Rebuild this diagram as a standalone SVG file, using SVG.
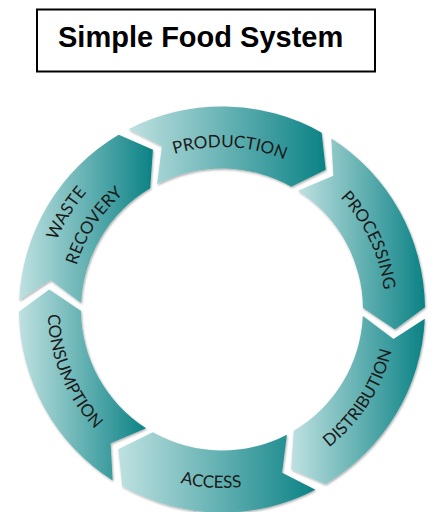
<svg xmlns="http://www.w3.org/2000/svg" xmlns:xlink="http://www.w3.org/1999/xlink" width="435" height="512" viewBox="0 0 435 512">
<defs>
<linearGradient id="teal" x1="0" y1="0" x2="1" y2="0">
<stop offset="0" stop-color="#bfe1e1"/>
<stop offset="1" stop-color="#0b8285"/>
</linearGradient>
<filter id="sh" x="-10%" y="-10%" width="120%" height="120%">
<feDropShadow dx="0.8" dy="1.2" stdDeviation="0.8" flood-color="#000" flood-opacity="0.35"/>
</filter>
<path id="tp-prod" d="M72.20,246.53 A162.5,162.5 0 0,1 377.23,261.45"/>
<path id="tp-proc" d="M207.23,147.17 A163,163 0 0,1 337.66,424.35"/>
<path id="tp-waste" d="M81.52,420.43 A179,179 0 0,1 258.30,134.22"/>
<path id="tp-recov" d="M100.29,400.55 A152,152 0 0,1 256.71,161.52"/>
<path id="tp-dist" d="M183.04,479.60 A174.5,174.5 0 0,0 361.18,204.24"/>
<path id="tp-acc" d="M50.76,359.90 A178.5,178.5 0 0,0 385.57,380.96"/>
<path id="tp-cons" d="M104.25,180.99 A174.3,174.3 0 0,0 229.60,483.63"/>
</defs>
<style>
.seg{fill:url(#teal);filter:url(#sh)}
.lbl{font-family:Lato,"Open Sans",sans-serif;font-size:17px;fill:#1a1a1a;text-anchor:middle}
.title{font-family:"Liberation Sans",Arial,sans-serif;font-weight:bold;font-size:29px;fill:#000}
</style>
<rect width="435" height="512" fill="#fff"/>
<g id="title">
<rect x="37" y="9.5" width="338" height="62" fill="#fff" stroke="#000" stroke-width="2"/>
<text class="title" x="58" y="47">Simple Food System</text>
</g>
<g id="connectors"></g>
<g id="production">
<path class="seg" d="M128.58,129.27 A203,203 0 0,1 321.65,132.64 L325.74,169.81 L291.22,186.66 A141,141 0 0,0 157.11,184.32 L161.92,146.20 Z"/>
<text class="lbl"><textPath xlink:href="#tp-prod" href="#tp-prod" startOffset="50%">PRODUCTION</textPath></text>
</g>
<g id="processing">
<path class="seg" d="M331.37,138.48 A203,203 0 0,1 424.99,307.37 L394.85,329.50 L362.99,308.02 A141,141 0 0,0 297.97,190.71 L333.38,175.82 Z"/>
<text class="lbl"><textPath xlink:href="#tp-proc" href="#tp-proc" startOffset="50%">PROCESSING</textPath></text>
</g>
<g id="distribution">
<path class="seg" d="M424.79,318.71 A203,203 0 0,1 325.34,484.23 L291.10,469.19 L293.77,430.86 A141,141 0 0,0 362.85,315.90 L393.46,339.12 Z"/>
<text class="lbl"><textPath xlink:href="#tp-dist" href="#tp-dist" startOffset="50%">DISTRIBUTION</textPath></text>
</g>
<g id="access">
<path class="seg" d="M315.42,489.73 A203,203 0 0,1 122.35,486.36 L118.26,449.19 L152.78,432.34 A141,141 0 0,0 286.89,434.68 L282.08,472.80 Z"/>
<text class="lbl"><textPath xlink:href="#tp-acc" href="#tp-acc" startOffset="50%">ACCESS</textPath></text>
</g>
<g id="consumption">
<path class="seg" d="M112.63,480.52 A203,203 0 0,1 19.01,311.63 L49.15,289.50 L81.01,310.98 A141,141 0 0,0 146.03,428.29 L110.62,443.18 Z"/>
<text class="lbl"><textPath xlink:href="#tp-cons" href="#tp-cons" startOffset="50%">CONSUMPTION</textPath></text>
</g>
<g id="waste-recovery">
<path class="seg" d="M19.21,300.29 A203,203 0 0,1 118.66,134.77 L152.90,149.81 L150.23,188.14 A141,141 0 0,0 81.15,303.10 L50.54,279.88 Z"/>
<text class="lbl"><textPath xlink:href="#tp-waste" href="#tp-waste" startOffset="50%">WASTE</textPath></text>
<text class="lbl"><textPath xlink:href="#tp-recov" href="#tp-recov" startOffset="50%">RECOVERY</textPath></text>
</g>
</svg>
